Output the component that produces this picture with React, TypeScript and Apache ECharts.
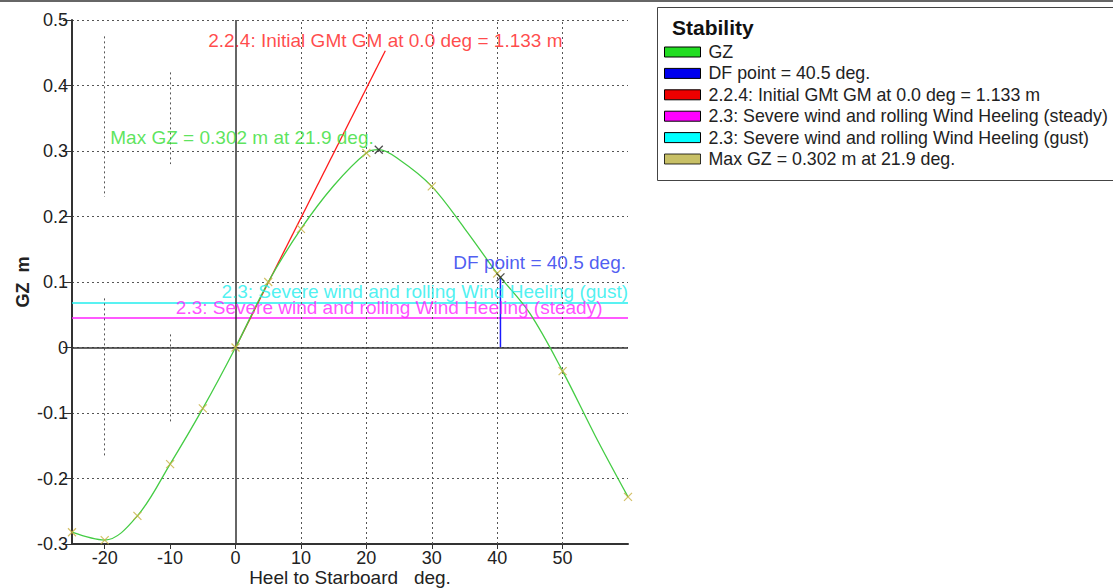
import React, { useEffect, useRef } from "react";
import * as echarts from "echarts";

const FONT = "'Liberation Sans', Arial, sans-serif";

// GZ curve
const gzAngles = [-25, -20, -15, -10, -5, 0, 5, 10, 15, 20, 21.9, 25, 30, 35, 40, 40.5, 45, 50, 55, 60];
const gzValues = [-0.282, -0.294, -0.257, -0.178, -0.093, 0, 0.1, 0.181, 0.247, 0.297, 0.302, 0.287, 0.246, 0.182, 0.113, 0.107, 0.052, -0.036, -0.135, -0.228];
// angles that carry an "x" marker on the GZ curve
const markerAngles = [-25, -20, -15, -10, -5, 0, 5, 10, 20, 30, 40, 50, 60];

const maxGZ = [21.9, 0.302];
const dfPoint = [40.5, 0.107];
const gmLineStart = [0, 0];
const gmLineEnd = [22.9, 0.453];
const steadyLevel = 0.045;
const gustLevel = 0.068;

const xMin = -25;
const xMax = 60;
const yMin = -0.3;
const yMax = 0.5;
const xTickValues = [-20, -10, 0, 10, 20, 30, 40, 50];

// dotted vertical grid segments: [x, yFrom, yTo]
const vGrid = [
  [10, -0.3, 0.5],
  [20, -0.3, 0.5],
  [30, -0.3, 0.5],
  [40, -0.3, 0.5],
  [50, -0.3, 0.5],
  [-20, 0.475, 0.23],
  [-20, 0.075, -0.168],
  [-10, 0.42, 0.28],
  [-10, 0.02, -0.115],
];

const labelGM = "2.2.4: Initial GMt GM at 0.0 deg = 1.133 m";
const labelMax = "Max GZ = 0.302 m at 21.9 deg.";
const labelDF = "DF point = 40.5 deg.";
const labelSteady = "2.3: Severe wind and rolling Wind Heeling (steady)";
const labelGust = "2.3: Severe wind and rolling Wind Heeling (gust)";

const dfLabelPos = [59.7, 0.13];
const gustLabelPos = [60, 0.086];
const steadyLabelPos = [56.1, 0.0605];

const legendNames = ["GZ", labelDF, labelGM, labelSteady, labelGust, labelMax];
const legendColors = ["#22dd22", "#0000ee", "#ee0000", "#ff00ff", "#00ffff", "#bab040"];

const C_GREEN = "#44cc44";
const C_TEXT_GREEN = "#33dd33";
const C_RED = "#ff1a1a";
const C_BLUE = "#2233ee";
const C_MAGENTA = "#ff22ff";
const C_CYAN = "#22eeee";
const C_OLIVE = "#c8b040";

const X_SYMBOL = "path://M0,0L10,10M10,0L0,10";

export default function App() {
  const ref = useRef<HTMLDivElement>(null);

  useEffect(() => {
    if (!ref.current) return;
    const chart = echarts.init(ref.current, null, { renderer: "svg" });

    const gzData = gzAngles.map((a, i) => [a, gzValues[i]]);
    const markerData = markerAngles.map((a) => [a, gzValues[gzAngles.indexOf(a)]]);

    const textSeries = (name: string, pos: number[], text: string, color: string, label: any) => ({
      type: "scatter",
      name,
      data: [pos],
      symbolSize: 0,
      silent: true,
      clip: false,
      z: 6,
      label: {
        show: true,
        formatter: text,
        color,
        fontFamily: FONT,
        fontSize: 19,
        ...label,
      },
    });

    const option: any = {
      animation: false,
      backgroundColor: "#ffffff",
      title: {
        text: "Stability",
        left: 672,
        top: 17,
        padding: 0,
        textStyle: { fontFamily: FONT, fontSize: 21, fontWeight: "bold", color: "#111" },
      },
      legend: {
        orient: "vertical",
        left: 664,
        top: 43,
        padding: 0,
        itemWidth: 36,
        itemHeight: 10,
        itemGap: 3.4,
        selectedMode: false,
        data: legendNames.map((n, i) => ({
          name: n,
          icon: "rect",
          itemStyle: { color: legendColors[i], borderColor: "#000", borderWidth: 1 },
        })),
        textStyle: { fontFamily: FONT, fontSize: 17.8, color: "#222", lineHeight: 17, padding: [0, 0, 0, 3] },
      },
      graphic: [
        { type: "rect", shape: { x: 0, y: 0, width: 1113, height: 2 }, style: { fill: "#666" }, z: 10 },
        {
          type: "rect",
          shape: { x: 657.5, y: 7.5, width: 470, height: 173 },
          style: { fill: "#fff", stroke: "#444", lineWidth: 1 },
          z: -10,
        },
      ],
      grid: { left: 72, top: 20, right: 485, bottom: 44, outerBoundsMode: "none", containLabel: false },
      xAxis: {
        type: "value",
        min: xMin,
        max: xMax,
        interval: 5,
        name: "Heel to Starboard   deg.",
        nameLocation: "middle",
        nameGap: 24,
        nameMoveOverlap: false,
        nameTextStyle: { fontFamily: FONT, fontSize: 19, color: "#222" },
        axisLine: { onZero: false, lineStyle: { color: "#333", width: 2 } },
        axisTick: { show: true, length: 5, customValues: xTickValues, lineStyle: { color: "#333" } },
        axisLabel: {
          customValues: xTickValues,
          fontFamily: FONT,
          fontSize: 18,
          color: "#222",
          margin: 5,
          formatter: (v: number) => (v % 10 === 0 ? String(v) : ""),
        },
        splitLine: { show: false },
      },
      yAxis: {
        type: "value",
        min: yMin,
        max: yMax,
        interval: 0.1,
        name: "GZ  m",
        nameLocation: "middle",
        nameGap: 40,
        nameMoveOverlap: false,
        nameRotate: 90,
        nameTextStyle: { fontFamily: FONT, fontSize: 18, color: "#222", fontWeight: "bold" },
        axisLine: { onZero: false, lineStyle: { color: "#333", width: 2 } },
        axisTick: { show: true, length: 9, lineStyle: { color: "#333" } },
        axisLabel: {
          fontFamily: FONT,
          fontSize: 18,
          color: "#222",
          margin: 4,
          padding: [8, 0, 0, 0],
          formatter: (v: number) => {
            const r = Math.round(v * 10) / 10;
            return r === 0 ? "0" : r.toFixed(1);
          },
        },
        splitLine: { show: true, lineStyle: { color: "#555", type: [2, 3], width: 1 } },
      },
      series: [
        {
          type: "line",
          name: "gridlines",
          data: [],
          silent: true,
          markLine: {
            silent: true,
            symbol: "none",
            label: { show: false },
            lineStyle: { color: "#555", type: [2, 3], width: 1 },
            data: vGrid.map((g) => [{ coord: [g[0], g[1]] }, { coord: [g[0], g[2]] }]),
          },
        },
        {
          type: "line",
          name: "zero",
          data: [],
          silent: true,
          z: 3,
          markLine: {
            silent: true,
            symbol: "none",
            label: { show: false },
            lineStyle: { color: "#333", type: "solid", width: 1.5 },
            data: [
              [{ coord: [0, yMin] }, { coord: [0, yMax] }],
              [{ coord: [xMin, 0] }, { coord: [xMax, 0] }],
            ],
          },
        },
        {
          type: "line",
          name: labelSteady,
          data: [[xMin, steadyLevel], [xMax, steadyLevel]],
          symbol: "none",
          lineStyle: { color: C_MAGENTA, width: 1.5 },
          itemStyle: { color: C_MAGENTA },
          z: 4,
        },
        {
          type: "line",
          name: labelGust,
          data: [[xMin, gustLevel], [xMax, gustLevel]],
          symbol: "none",
          lineStyle: { color: C_CYAN, width: 1.5 },
          itemStyle: { color: C_CYAN },
          z: 4,
        },
        {
          type: "line",
          name: labelDF,
          data: [[dfPoint[0], 0], dfPoint],
          symbol: "none",
          lineStyle: { color: "#1a1aff", width: 1.5 },
          itemStyle: { color: "#1a1aff" },
          z: 4,
        },
        {
          type: "line",
          name: labelGM,
          data: [gmLineStart, gmLineEnd],
          symbol: "none",
          lineStyle: { color: C_RED, width: 1.3 },
          itemStyle: { color: C_RED },
          z: 5,
        },
        {
          type: "line",
          name: "GZ",
          data: gzData,
          smooth: 0.35,
          symbol: "none",
          lineStyle: { color: C_GREEN, width: 1.3 },
          itemStyle: { color: C_GREEN },
          z: 5,
        },
        {
          type: "scatter",
          name: labelMax,
          data: markerData,
          symbol: X_SYMBOL,
          symbolSize: 8,
          itemStyle: { color: "transparent", borderColor: C_OLIVE, borderWidth: 1.2 },
          silent: true,
          clip: false,
          z: 6,
        },
        {
          type: "scatter",
          name: "points",
          data: [maxGZ, dfPoint],
          symbol: X_SYMBOL,
          symbolSize: 8,
          itemStyle: { color: "transparent", borderColor: "#222", borderWidth: 1.3 },
          silent: true,
          z: 7,
        },
        textSeries("lblGM", gmLineEnd, labelGM, C_RED, { position: "top", distance: 1 }),
        textSeries("lblMax", maxGZ, labelMax, C_TEXT_GREEN, { position: "left", distance: 5, offset: [0, -12] }),
        textSeries("lblDF", dfLabelPos, labelDF, C_BLUE, { position: "left", distance: 0 }),
        textSeries("lblGust", gustLabelPos, labelGust, C_CYAN, { position: "left", distance: 0 }),
        textSeries("lblSteady", steadyLabelPos, labelSteady, C_MAGENTA, { position: "left", distance: 0 }),
      ],
    };

    chart.setOption(option);
    return () => chart.dispose();
  }, []);

  return (
    <div
      ref={ref}
      style={{ position: "absolute", left: 0, top: 0, width: 1113, height: 588, background: "#fff" }}
    />
  );
}
